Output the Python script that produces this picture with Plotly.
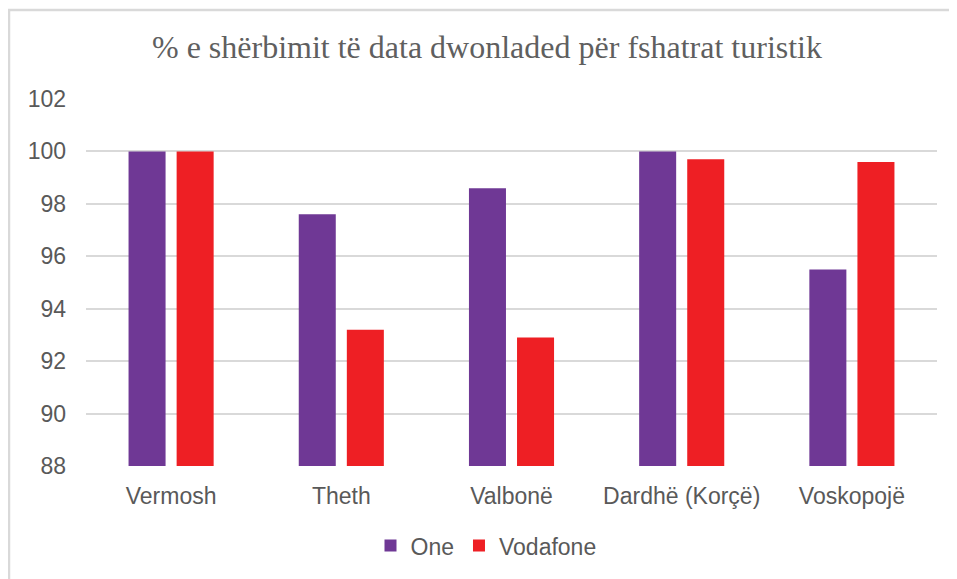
import plotly.graph_objects as go

categories = ["Vermosh", "Theth", "Valbonë", "Dardhë (Korçë)", "Voskopojë"]
one_values = [100, 97.6, 98.6, 100, 95.5]
vodafone_values = [100, 93.2, 92.9, 99.7, 99.6]
y_ticks = [88, 90, 92, 94, 96, 98, 100, 102]
title_text = "% e shërbimit të data dwonladed për fshatrat turistik"

# page has an 8px body margin; work in page pixels and offset
OFF = 8
W, H = 957 - OFF, 579 - OFF
ml, mr, mt, mb = 86 - OFF, 20, 99 - OFF, 111
pw = W - ml - mr
ph = H - mt - mb

def px_x(x):
    return (x - OFF - ml) / pw

def px_y(y):
    return (H - mb - (y - OFF)) / ph

fig = go.Figure()
fig.add_trace(go.Bar(x=categories, y=one_values, name="One",
                     marker=dict(color="#6F3895", line=dict(width=0))))
fig.add_trace(go.Bar(x=categories, y=vodafone_values, name="Vodafone",
                     marker=dict(color="#EE1F24", line=dict(width=0))))

fig.update_layout(
    width=W, height=H,
    margin=dict(l=ml, r=mr, t=mt, b=mb),
    paper_bgcolor="white", plot_bgcolor="white",
    barmode="group", bargap=0.435, bargroupgap=0.23,
    title=dict(text=title_text, x=(487 - OFF) / W, xref="container", xanchor="center",
               y=1 - (47 - OFF) / H, yref="container", yanchor="middle",
               font=dict(family="Liberation Serif", size=32, color="#5F5F5F")),
    font=dict(family="Liberation Sans", size=23, color="#595959"),
    legend=dict(orientation="h", x=px_x(486), xanchor="center",
                y=px_y(548), yanchor="middle",
                font=dict(family="Liberation Sans", size=23, color="#595959"),
                itemwidth=30, traceorder="normal"),
    showlegend=True,
)
fig.update_yaxes(range=[88, 102], tickvals=y_ticks, ticktext=[str(v) for v in y_ticks],
                 showgrid=True, gridcolor="#D9D9D9", gridwidth=1.5,
                 zeroline=False, showline=False, ticks="", ticklabelstandoff=19,
                 tickfont=dict(family="Liberation Sans", size=23, color="#595959"))
fig.update_xaxes(showgrid=False, showline=False, ticks="", ticklabelstandoff=14,
                 tickfont=dict(family="Liberation Sans", size=23, color="#595959"))

fig.add_shape(type="rect", xref="paper", yref="paper",
              x0=px_x(OFF + 1), x1=px_x(957 + 30), y0=px_y(579 + 30), y1=px_y(OFF + 1.5),
              line=dict(color="#D9D9D9", width=2.5), fillcolor="rgba(0,0,0,0)", layer="below")

fig.write_html("out.html")
